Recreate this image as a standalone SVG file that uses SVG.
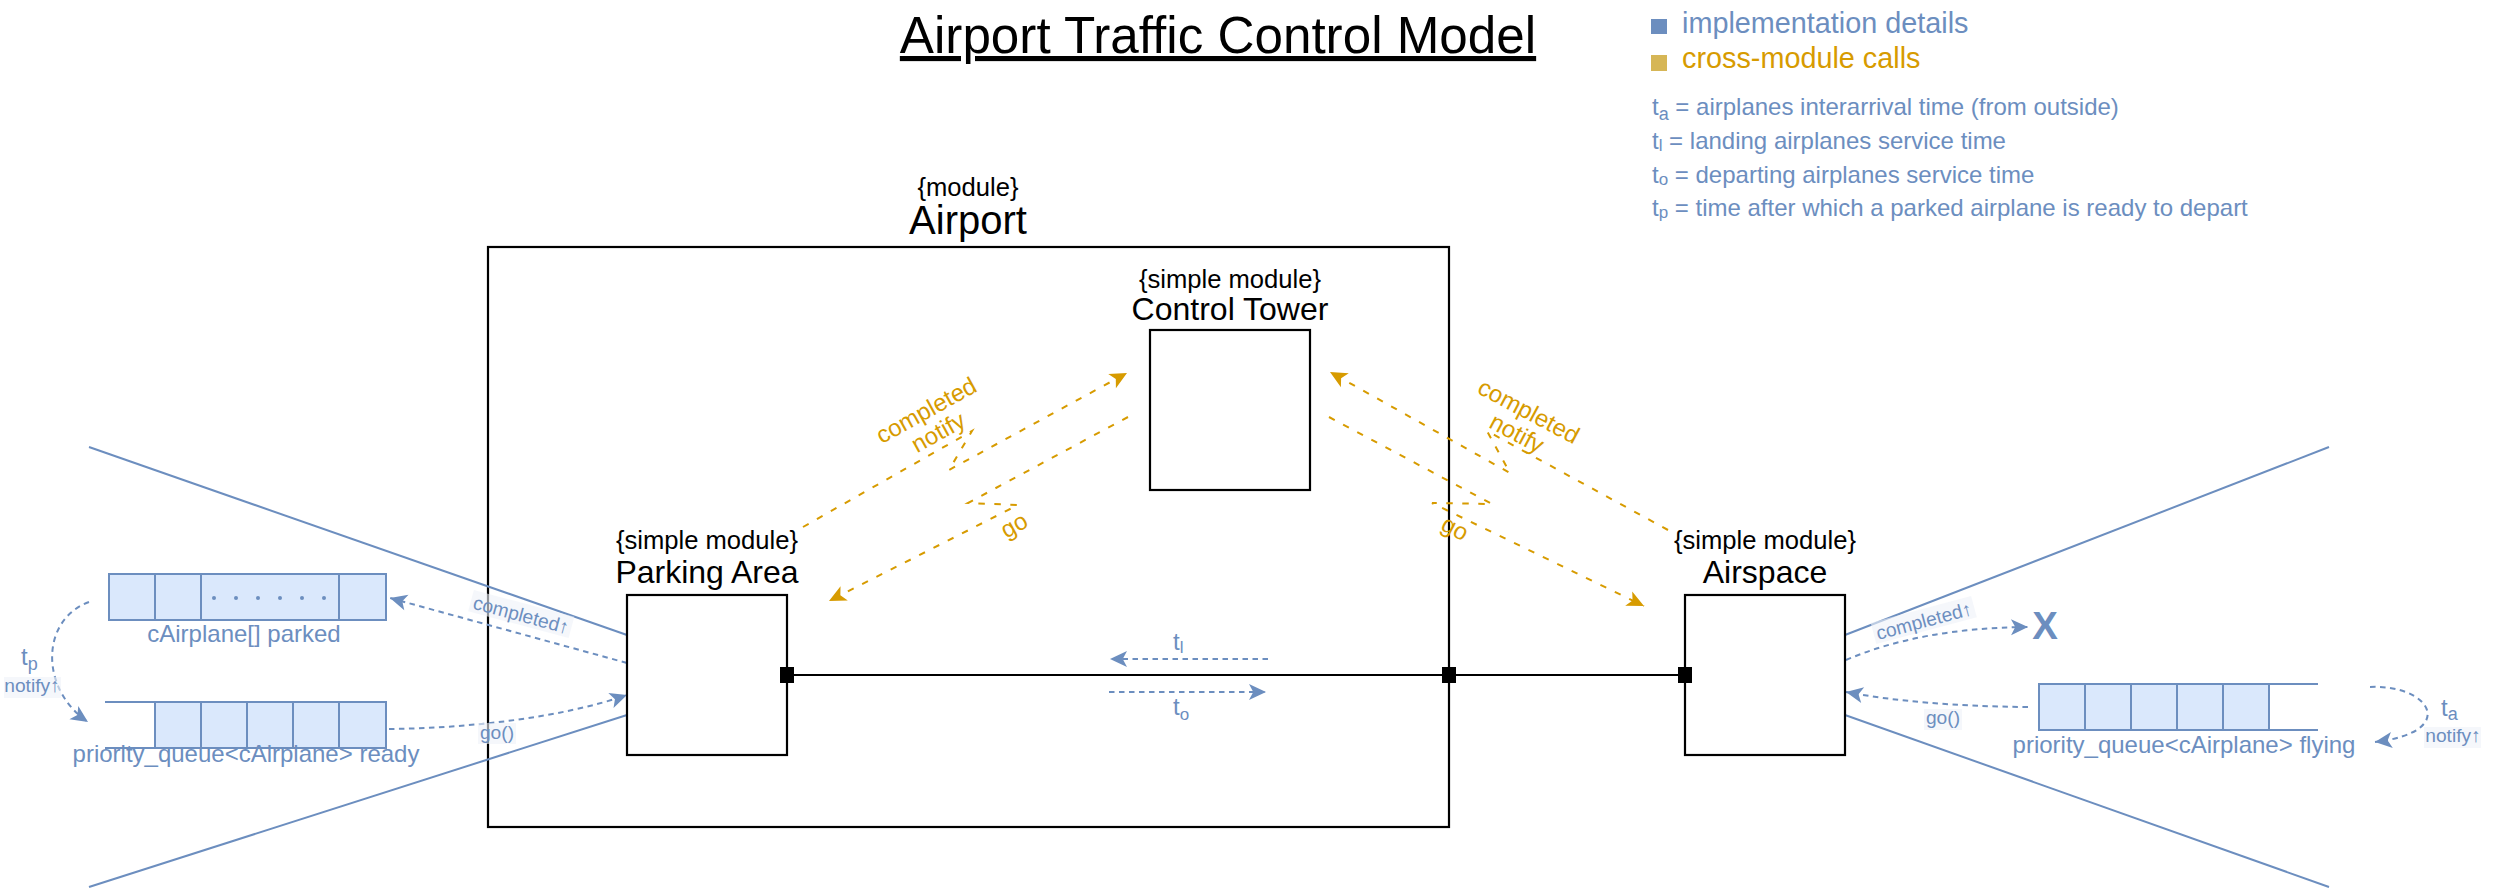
<svg xmlns="http://www.w3.org/2000/svg" width="2502" height="890" viewBox="0 0 2502 890">
<style>
text{font-family:"Liberation Sans",Arial,Helvetica,sans-serif}
.box{fill:#fff;stroke:#000;stroke-width:2.2}
.port{fill:#000}
.wire{fill:none;stroke:#000;stroke-width:2.2}
.bl{fill:none;stroke:#6c8ebf;stroke-width:2}
.bd{fill:none;stroke:#6c8ebf;stroke-width:2;stroke-dasharray:5.5 4.5}
.od{fill:none;stroke:#d79b00;stroke-width:2;stroke-dasharray:6.5 9.5}
.cell{fill:#dae8fc;stroke:#6c8ebf;stroke-width:2}
.qline{fill:none;stroke:#6c8ebf;stroke-width:2}
.dot{fill:#6c8ebf}
.k{fill:#000}
.b{fill:#6c8ebf}
.o{fill:#d79b00}
.stereo{font-size:25.6px;text-anchor:middle}
.name{font-size:32px;text-anchor:middle}
.note{font-size:24px;fill:#6c8ebf}
.small{font-size:19.2px;fill:#6c8ebf;text-anchor:middle}
.olab{font-size:24px;fill:#d79b00;text-anchor:middle}
.lbg{fill:#eef2f8;opacity:0.6}
</style>
<defs>
<marker id="ab" viewBox="-19 -10 21 20" refX="0" refY="0" markerWidth="21" markerHeight="20" markerUnits="userSpaceOnUse" orient="auto">
<path d="M0,0 L-17,-8 L-12.75,0 L-17,8 Z" fill="#6c8ebf"/>
</marker>
<marker id="ao" viewBox="-19 -10 21 20" refX="0" refY="0" markerWidth="21" markerHeight="20" markerUnits="userSpaceOnUse" orient="auto">
<path d="M0,0 L-17,-8 L-12.75,0 L-17,8 Z" fill="#d79b00"/>
</marker>
</defs>
<rect width="2502" height="890" fill="#fff"/>

<g id="title">
<text x="1218" y="53" font-size="51.2" text-anchor="middle" text-decoration="underline" class="k">Airport Traffic Control Model</text>
</g>

<g id="legend">
<rect x="1651" y="19" width="16" height="15" fill="#6c8ebf"/>
<text x="1682" y="33" font-size="28.8" class="b">implementation details</text>
<rect x="1651" y="55" width="16" height="16" fill="#d6b656"/>
<text x="1682" y="68" font-size="28.8" class="o">cross-module calls</text>
</g>

<g id="notes">
<text x="1652" y="115" class="note">t<tspan font-size="18" dy="5">a</tspan><tspan dy="-5"> = airplanes interarrival time (from outside)</tspan></text>
<text x="1652" y="149" class="note">t<tspan font-size="17" dy="2">l</tspan><tspan dy="-2"> = landing airplanes service time</tspan></text>
<text x="1652" y="183" class="note">t<tspan font-size="17" dy="2">o</tspan><tspan dy="-2"> = departing airplanes service time</tspan></text>
<text x="1652" y="216" class="note">t<tspan font-size="17" dy="2">p</tspan><tspan dy="-2"> = time after which a parked airplane is ready to depart</tspan></text>
</g>

<g id="airport">
<rect x="488" y="247" width="961" height="580" class="box"/>
<text x="968" y="196" class="stereo k">{module}</text>
<text x="968" y="234" font-size="40" text-anchor="middle" class="k">Airport</text>
</g>

<g id="connectors">
<line x1="787" y1="675" x2="1685" y2="675" class="wire"/>
<path d="M89 447 L627 635" class="bl"/>
<path d="M89 887 L627 715" class="bl"/>
<path d="M1845 635 L2329 447" class="bl"/>
<path d="M1845 715 L2329 887" class="bl"/>
<path d="M1268 659 L1110 659" class="bd" marker-end="url(#ab)"/>
<path d="M1109 692 L1266 692" class="bd" marker-end="url(#ab)"/>
<path d="M627 663 L390 598" class="bd" marker-end="url(#ab)"/>
<path d="M389 729 C470 728 560 718 627 695" class="bd" marker-end="url(#ab)"/>
<path d="M89 602 C40 620 40 690 88 722" class="bd" marker-end="url(#ab)"/>
<path d="M1846 660 Q1920 628 2028 627" class="bd" marker-end="url(#ab)"/>
<path d="M2028 707 Q1920 706 1846 692" class="bd" marker-end="url(#ab)"/>
<path d="M2370 687 C2430 684 2460 732 2375 742" class="bd" marker-end="url(#ab)"/>
<path d="M803 527 L972 431 L949 470 L1127 373" class="od" marker-end="url(#ao)"/>
<path d="M1128 417 L968 503 L1018 505 L829 601" class="od" marker-end="url(#ao)"/>
<path d="M1668 530 L1487 431 L1510 473 L1330 372" class="od" marker-end="url(#ao)"/>
<path d="M1329 417 L1492 504 L1432 503 L1644 606" class="od" marker-end="url(#ao)"/>
<text x="1173" y="650" font-size="24" class="b">t<tspan font-size="17" dy="3">l</tspan></text>
<text x="1173" y="715" font-size="24" class="b">t<tspan font-size="17" dy="5">o</tspan></text>
<g transform="translate(932,421) rotate(-29)">
<text x="0" y="-4" class="olab">completed</text>
<text x="0" y="21" class="olab">notify</text>
</g>
<g transform="translate(1015,527) rotate(-29)"><text x="0" y="6" class="olab">go</text></g>
<g transform="translate(1523,422) rotate(28)">
<text x="0" y="-4" class="olab">completed</text>
<text x="0" y="21" class="olab">notify</text>
</g>
<g transform="translate(1454,530) rotate(28)"><text x="0" y="6" class="olab">go</text></g>
<g transform="translate(521,615) rotate(15)"><rect x="-52" y="-12" width="104" height="22" class="lbg"/><text x="0" y="6.5" class="small">completed↑</text></g>
<g transform="translate(1924,621) rotate(-15)"><rect x="-52" y="-12" width="104" height="22" class="lbg"/><text x="0" y="6.5" class="small">completed↑</text></g>
<rect x="478" y="723" width="38" height="21" class="lbg"/>
<text x="497" y="739" class="small">go()</text>
<rect x="1924" y="709" width="38" height="21" class="lbg"/>
<text x="1943" y="724" class="small">go()</text>
<text x="21" y="665" font-size="24" class="b">t<tspan font-size="18" dy="5">p</tspan></text>
<rect x="4" y="677" width="57" height="21" class="lbg"/>
<text x="32" y="692" class="small">notify↑</text>
<text x="2441" y="716" font-size="24" class="b">t<tspan font-size="18" dy="4">a</tspan></text>
<rect x="2424" y="727" width="57" height="21" class="lbg"/>
<text x="2453" y="742" class="small">notify↑</text>
</g>

<g id="airport-port"><rect x="1442" y="667" width="14" height="16" class="port"/></g>

<g id="control-tower">
<rect x="1150" y="330" width="160" height="160" class="box"/>
<text x="1230" y="288" class="stereo k">{simple module}</text>
<text x="1230" y="320" class="name k">Control Tower</text>
</g>

<g id="parking-area">
<rect x="627" y="595" width="160" height="160" class="box"/>
<text x="707" y="549" class="stereo k">{simple module}</text>
<text x="707" y="583" class="name k">Parking Area</text>
<rect x="780" y="667" width="14" height="16" class="port"/>
</g>

<g id="airspace">
<rect x="1685" y="595" width="160" height="160" class="box"/>
<text x="1765" y="549" class="stereo k">{simple module}</text>
<text x="1765" y="583" class="name k">Airspace</text>
<rect x="1678" y="667" width="14" height="16" class="port"/>
</g>

<g id="parked-queue">
<rect x="109" y="574" width="46" height="46" class="cell"/>
<rect x="155" y="574" width="46" height="46" class="cell"/>
<rect x="201" y="574" width="138" height="46" class="cell"/>
<rect x="339" y="574" width="47" height="46" class="cell"/>
<circle cx="214" cy="598" r="2" class="dot"/>
<circle cx="236" cy="598" r="2" class="dot"/>
<circle cx="258" cy="598" r="2" class="dot"/>
<circle cx="280" cy="598" r="2" class="dot"/>
<circle cx="302" cy="598" r="2" class="dot"/>
<circle cx="324" cy="598" r="2" class="dot"/>
<text x="244" y="642" class="note" text-anchor="middle">cAirplane[] parked</text>
</g>

<g id="ready-queue">
<path d="M105 702 H386 M105 748 H386" class="qline"/>
<rect x="155" y="702" width="46" height="46" class="cell"/>
<rect x="201" y="702" width="46" height="46" class="cell"/>
<rect x="247" y="702" width="46" height="46" class="cell"/>
<rect x="293" y="702" width="46" height="46" class="cell"/>
<rect x="339" y="702" width="47" height="46" class="cell"/>
<text x="246" y="762" class="note" text-anchor="middle">priority_queue&lt;cAirplane&gt; ready</text>
</g>

<g id="flying-queue">
<path d="M2039 684 H2318 M2039 730 H2318" class="qline"/>
<rect x="2039" y="684" width="46" height="46" class="cell"/>
<rect x="2085" y="684" width="46" height="46" class="cell"/>
<rect x="2131" y="684" width="46" height="46" class="cell"/>
<rect x="2177" y="684" width="46" height="46" class="cell"/>
<rect x="2223" y="684" width="46" height="46" class="cell"/>
<text x="2184" y="753" class="note" text-anchor="middle">priority_queue&lt;cAirplane&gt; flying</text>
</g>

<g id="exit">
<text x="2045" y="639" font-size="38.4" font-weight="bold" text-anchor="middle" class="b">X</text>
</g>
</svg>
